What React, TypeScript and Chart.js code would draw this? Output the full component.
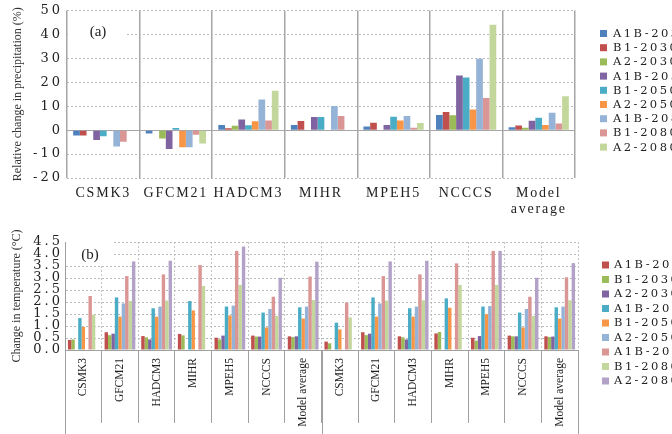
import React, { useEffect, useRef } from "react";
import { Chart, registerables } from "chart.js";

Chart.register(...registerables);

// ---------- data ----------
const precipCategories: (string | string[])[] = ["CSMK3", "GFCM21", "HADCM3", "MIHR", "MPEH5", "NCCCS", ["Model", "average"]];
const precipSeriesNames = ["A1B-2030", "B1-2030", "A2-2030", "A1B-2050", "B1-2050", "A2-2050", "A1B-2080", "B1-2080", "A2-2080"];
const pA1B2030 = [-2.2, -1.4, 2.2, 2.2, 1.5, 6.3, 1.2];
const pB12030 = [-2.2, -0.3, 0.8, 3.8, 3.1, 7.6, 1.9];
const pA22030 = [null, -3.5, 1.8, null, null, 6.2, 1.0];
const pA1B2050 = [-4.1, -7.9, 4.4, 5.5, 2.2, 22.8, 3.9];
const pB12050 = [-2.5, 0.9, 2.0, 5.5, 5.6, 22.0, 5.2];
const pA22050 = [null, -7.1, 3.7, null, 4.0, 8.6, 2.1];
const pA1B2080 = [-6.8, -7.1, 12.8, 10.1, 5.9, 29.8, 7.3];
const pB12080 = [-4.9, -1.9, 4.0, 5.9, 1.0, 13.4, 2.8];
const pA22080 = [null, -5.6, 16.5, null, 3.0, 44.0, 14.2];
const precipValues = [pA1B2030, pB12030, pA22030, pA1B2050, pB12050, pA22050, pA1B2080, pB12080, pA22080];
const precipColors = ["#4F81BD", "#C0504D", "#9BBB59", "#8064A2", "#4BACC6", "#F79646", "#95B3D7", "#D99694", "#C3D69B"];

const tempModels = ["CSMK3", "GFCM21", "HADCM3", "MIHR", "MPEH5", "NCCCS", "Model average"];
const tempCategories = [...tempModels, ...tempModels];
const tempSeriesNames = ["A1B-2030", "B1-2030", "A2-2030", "A1B-2050", "B1-2050", "A2-2050", "A1B-2080", "B1-2080", "A2-2080"];
const tA1B2030 = [0.42, 0.74, 0.58, 0.67, 0.51, 0.6, 0.57, 0.35, 0.74, 0.57, 0.69, 0.51, 0.6, 0.57];
const tB12030 = [0.44, 0.62, 0.53, 0.61, 0.44, 0.56, 0.54, 0.28, 0.62, 0.53, 0.75, 0.39, 0.57, 0.54];
const tA22030 = [null, 0.68, 0.44, null, 0.6, 0.56, 0.57, null, 0.68, 0.44, null, 0.58, 0.57, 0.56];
const tA1B2050 = [1.33, 2.19, 1.74, 2.04, 1.81, 1.56, 1.78, 1.14, 2.19, 1.74, 2.15, 1.81, 1.56, 1.78];
const tB12050 = [0.96, 1.39, 1.39, 1.65, 1.44, 0.94, 1.31, 0.86, 1.39, 1.39, 1.76, 1.49, 0.94, 1.31];
const tA22050 = [null, 1.94, 1.81, null, 1.85, 1.71, 1.81, null, 1.94, 1.81, null, 1.83, 1.71, 1.81];
const tA1B2080 = [2.25, 3.08, 3.15, 3.54, 4.13, 2.22, 3.06, 1.97, 3.08, 3.15, 3.61, 4.13, 2.22, 3.03];
const tB12080 = [1.47, 2.04, 2.06, 2.67, 2.71, 1.42, 2.08, 1.36, 2.06, 2.07, 2.71, 2.71, 1.42, 2.07];
const tA22080 = [null, 3.69, 3.72, null, 4.31, 3.01, 3.68, null, 3.69, 3.72, null, 4.13, 3.01, 3.62];
const tempValues = [tA1B2030, tB12030, tA22030, tA1B2050, tB12050, tA22050, tA1B2080, tB12080, tA22080];
const tempColors = ["#C0504D", "#9BBB59", "#8064A2", "#4BACC6", "#F79646", "#95B3D7", "#D99694", "#C3D69B", "#B3A2C7"];

const precipTicks = { min: -20, max: 50, step: 10 };
const tempTicks = { min: 0, max: 4.5, step: 0.5 };

// ---------- plugins ----------
const spacingPlugin = {
  id: "tickSpacing",
  beforeDraw(chart: any, _a: any, opts: any) {
    const spacing = opts.spacing || {};
    Object.keys(spacing).forEach((id) => {
      const s: any = chart.scales[id];
      if (!s || s.__spaced) return;
      const orig = s.drawLabels;
      s.drawLabels = function (area: any) {
        const ctx = this.ctx;
        ctx.save();
        ctx.letterSpacing = spacing[id];
        orig.call(this, area);
        ctx.restore();
      };
      s.__spaced = true;
    });
  },
};

const sideLegend = {
  id: "sideLegend",
  afterDraw(chart: any, _a: any, o: any) {
    const { ctx, chartArea } = chart;
    ctx.save();
    ctx.font = o.font;
    ctx.letterSpacing = o.letterSpacing;
    ctx.textBaseline = "middle";
    ctx.textAlign = "left";
    chart.data.datasets.forEach((ds: any, i: number) => {
      const y = o.top + i * o.spacing;
      const x = chartArea.right + o.offsetX;
      ctx.fillStyle = ds.backgroundColor;
      ctx.fillRect(x, y - o.box / 2, o.box, o.box);
      ctx.fillStyle = o.color;
      ctx.fillText(ds.label, x + o.box + o.gap, y + 0.5);
    });
    ctx.restore();
  },
};

const panelLabel = {
  id: "panelLabel",
  beforeDatasetsDraw(chart: any, _a: any, o: any) {
    const { ctx, chartArea } = chart;
    ctx.save();
    ctx.fillStyle = "#ffffff";
    ctx.fillRect(chartArea.left + 1, chartArea.top + o.boxTop, o.boxW, o.boxH);
    ctx.fillStyle = "#222";
    ctx.font = o.font;
    ctx.textAlign = "center";
    ctx.textBaseline = "middle";
    ctx.fillText(o.text, chartArea.left + o.textX, chartArea.top + o.textY);
    ctx.restore();
  },
};

const outerLines = {
  id: "outerLines",
  afterDraw(chart: any, _a: any, o: any) {
    if (!o.enabled) return;
    const { ctx, chartArea } = chart;
    const xs = chart.scales.x;
    const mid = (xs.getPixelForValue(6) + xs.getPixelForValue(7)) / 2;
    ctx.save();
    ctx.strokeStyle = o.color;
    ctx.lineWidth = 1;
    [chartArea.left, mid, chartArea.right].forEach((x: number) => {
      const px = Math.round(x) + 0.5;
      ctx.beginPath();
      ctx.moveTo(px, chartArea.bottom);
      ctx.lineTo(px, chart.height);
      ctx.stroke();
    });
    ctx.restore();
  },
};

const tickFont = { family: "'DejaVu Serif', serif", size: 13, lineHeight: 1 };

export default function App() {
  const topRef = useRef<HTMLCanvasElement>(null);
  const botRef = useRef<HTMLCanvasElement>(null);

  useEffect(() => {
    const top = new Chart(topRef.current as HTMLCanvasElement, {
      type: "bar",
      data: {
        labels: precipCategories as any,
        datasets: precipSeriesNames.map((n, i) => ({
          label: n,
          data: precipValues[i] as any,
          backgroundColor: precipColors[i],
          borderWidth: 0,
          categoryPercentage: 0.83,
          barPercentage: 1.0,
        })),
      },
      options: {
        responsive: false,
        animation: false,
        devicePixelRatio: 1,
        layout: { padding: { top: 10, right: 97, left: 0, bottom: 0 } },
        plugins: {
          legend: { display: false },
          tooltip: { enabled: false },
          tickSpacing: { spacing: { x: "1.8px", y: "3px" } },
          sideLegend: { font: "11.5px 'DejaVu Serif', serif", letterSpacing: "2.5px", top: 33.5, spacing: 14.2, offsetX: 25, box: 7, gap: 6, color: "#222" },
          panelLabel: { text: "(a)", font: "15px 'Liberation Serif', serif", boxTop: 12, boxW: 59, boxH: 22, textX: 31, textY: 22 },
          outerLines: { enabled: false },
        } as any,
        scales: {
          x: {
            grid: { color: "#a6a6a6", lineWidth: 1.5, drawTicks: false, offset: true },
            border: { display: false },
            ticks: { font: { family: "'Liberation Serif', serif", size: 14, lineHeight: 1.15 } as any, color: "#222", padding: 7, autoSkip: false, maxRotation: 0, minRotation: 0 },
            afterFit: (s: any) => { s.height = 44; },
          },
          y: {
            min: precipTicks.min,
            max: precipTicks.max,
            ticks: { stepSize: precipTicks.step, font: tickFont as any, color: "#222", padding: 4, autoSkip: false },
            grid: {
              color: (c: any) => (c.tick && c.tick.value === 0 ? "#a6a6a6" : "#b8b8b8"),
              lineWidth: 1,
              drawTicks: false,
            },
            border: { display: false, dash: (c: any) => (c.tick && c.tick.value === 0 ? [] : [2, 2]) } as any,
            title: { display: true, text: "Relative change in precipitation (%)", font: { family: "'Liberation Serif', serif", size: 12 }, color: "#333", padding: { top: 10.8, bottom: 0 } },
            afterFit: (s: any) => { s.width = 67; },
          },
        },
      },
      plugins: [spacingPlugin, sideLegend, panelLabel, outerLines] as any,
    });

    const bot = new Chart(botRef.current as HTMLCanvasElement, {
      type: "bar",
      data: {
        labels: tempCategories,
        datasets: tempSeriesNames.map((n, i) => ({
          label: n,
          data: tempValues[i] as any,
          backgroundColor: tempColors[i],
          borderWidth: 0,
          categoryPercentage: 0.84,
          barPercentage: 1.0,
        })),
      },
      options: {
        responsive: false,
        animation: false,
        devicePixelRatio: 1,
        layout: { padding: { top: 20, right: 94, left: 0, bottom: 0 } },
        plugins: {
          legend: { display: false },
          tooltip: { enabled: false },
          tickSpacing: { spacing: { y: "3px" } },
          sideLegend: { font: "11.5px 'DejaVu Serif', serif", letterSpacing: "2.5px", top: 43, spacing: 14.5, offsetX: 24, box: 7, gap: 5, color: "#222" },
          panelLabel: { text: "(b)", font: "15px 'Liberation Serif', serif", boxTop: -6, boxW: 46, boxH: 28.5, textX: 25, textY: 13 },
          outerLines: { enabled: true, color: "#a0a0a0" },
        } as any,
        scales: {
          x: {
            grid: {
              color: "#c4c4c4",
              lineWidth: 1,
              offset: true,
              drawTicks: true,
              tickLength: 73,
              tickColor: "#a0a0a0",
              tickWidth: 1,
              tickBorderDash: [],
            } as any,
            border: { display: true, color: "#a0a0a0", width: 1, dash: [2, 2] } as any,
            ticks: { font: { family: "'Liberation Serif', serif", size: 11.5 }, color: "#222", padding: -65, autoSkip: false, maxRotation: 90, minRotation: 90 },
            afterFit: (s: any) => { s.height = 84; },
          },
          y: {
            min: tempTicks.min,
            max: tempTicks.max,
            ticks: { stepSize: tempTicks.step, font: tickFont as any, color: "#222", padding: 2, autoSkip: false, callback: (v: any) => Number(v).toFixed(1) },
            grid: { color: "#b8b8b8", lineWidth: 1, drawTicks: false },
            border: { display: true, color: "#a0a0a0", width: 1, dash: [2, 2] } as any,
            title: { display: true, text: "Change in temperature (°C)", font: { family: "'Liberation Serif', serif", size: 12 }, color: "#333", padding: { top: 9.8, bottom: 0 } },
            afterFit: (s: any) => { s.width = 65; },
          },
        },
      },
      plugins: [spacingPlugin, sideLegend, panelLabel, outerLines] as any,
    });

    return () => {
      top.destroy();
      bot.destroy();
    };
  }, []);

  return (
    <div style={{ position: "fixed", left: 0, top: 0, width: 672, height: 434, overflow: "hidden", background: "#fff" }}>
      <canvas ref={topRef} width={672} height={222} style={{ position: "absolute", left: 0, top: 0 }} />
      <canvas ref={botRef} width={672} height={212} style={{ position: "absolute", left: 0, top: 222 }} />
    </div>
  );
}
